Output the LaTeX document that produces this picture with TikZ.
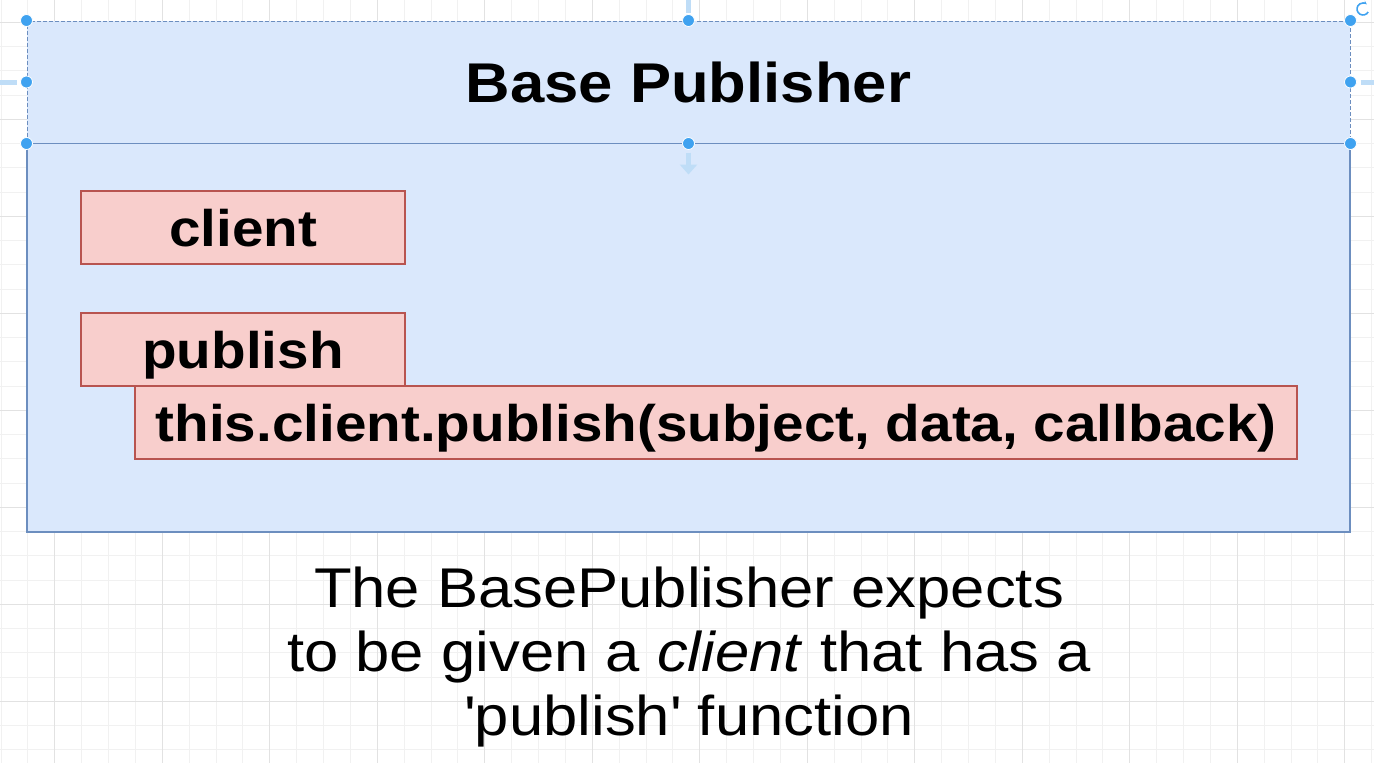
\documentclass[tikz,border=0pt]{standalone}
\usepackage{fontspec}
\setmainfont{Liberation Sans}[FakeStretch=1.1]
\usetikzlibrary{arrows.meta}
\definecolor{laneblue}{HTML}{DAE8FC}
\definecolor{lanestroke}{HTML}{6C8EBF}
\definecolor{boxred}{HTML}{F8CECC}
\definecolor{boxstroke}{HTML}{B85450}
\definecolor{handleblue}{HTML}{3FA2F0}
\definecolor{hintblue}{HTML}{BFDDF7}
\definecolor{gridminor}{HTML}{F1F1F1}
\definecolor{gridmajor}{HTML}{E2E2E2}
\begin{document}
\begin{tikzpicture}[x=1pt,y=-1pt,
    lane/.style={draw=lanestroke,fill=laneblue,line width=1.5pt,minimum width=1323pt,inner sep=0pt},
    field/.style={draw=boxstroke,fill=boxred,line width=1.5pt,minimum height=73pt,inner sep=0pt,
      text height=37pt,text depth=0pt,font=\fontsize{51.5}{60}\selectfont\bfseries},
    handle/.style={circle,fill=handleblue,draw=white,line width=0.8pt,minimum size=12pt,inner sep=0pt},
    hint/.style={hintblue,line width=5pt}]
      \useasboundingbox (0,0) rectangle (1374,763);
      \foreach \k in {0,...,51} \draw[gridminor] ({0.75+26.875*\k},0) -- ({0.75+26.875*\k},763);
      \foreach \k in {0,...,30} \draw[gridminor] (0,{22+24.25*\k}) -- (1374,{22+24.25*\k});
      \foreach \k in {0,...,12} \draw[gridmajor] ({54.5+107.5*\k},0) -- ({54.5+107.5*\k},763);
      \foreach \k in {0,...,7} \draw[gridmajor] (0,{22+97*\k}) -- (1374,{22+97*\k});

      \node[lane, minimum height=389pt] (body) at (688.5,337.5) {};
      \node[lane, minimum height=122pt, line width=1pt, dash pattern=on 4pt off 2pt,
        text height=40pt, text depth=0pt, font=\fontsize{56}{64}\selectfont\bfseries] (head) at (688.5,82) {Base Publisher};

      \node[field, minimum width=324pt] (client) at (243,227.5) {client};
      \node[field, minimum width=324pt] (publish) at (243,349.5) {publish};
      \node[field, minimum width=1162pt] (call) at (716,422.5) {this.client.publish(subject, data, callback)};

      \draw[hint] ([yshift=8pt]head.north) -- ++(0,-13);
      \draw[hint] ([xshift=-10pt]head.west) -- ++(-17,0);
      \draw[hint] ([xshift=10pt]head.east) -- ++(17,0);
      \draw[hint,-{Triangle[length=10pt,width=17pt]}] ([yshift=-9pt]head.south) -- ++(0,22);
      \foreach \a in {north west,north,north east,west,east,south west,south,south east}
        \node[handle] (h \a) at (head.\a) {};
      \draw[handleblue, line width=1.6pt, -{Stealth[length=4pt]}] (1368.2,12) arc[start angle=30, end angle=310, radius=6];

      \node[font=\fontsize{56}{64}\selectfont, align=center] (note) at (689,657)
        {The BasePublisher expects\\ to be given a \textit{client} that has a\\ \textquotesingle publish\textquotesingle\ function};
    \end{tikzpicture}
\end{document}
